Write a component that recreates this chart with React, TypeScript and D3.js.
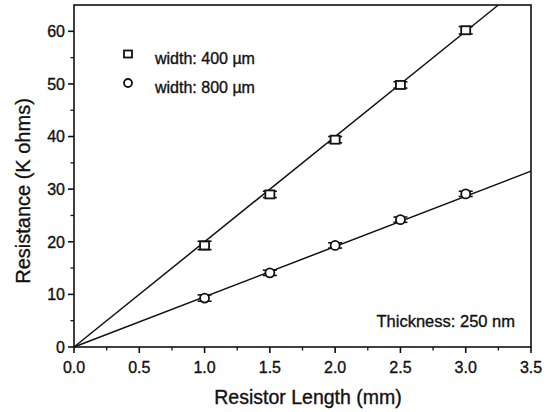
import React from 'react';
import * as d3 from 'd3';

// data
const lengths = [1.0, 1.5, 2.0, 2.5, 3.0];
const res400 = [19.3, 29.0, 39.4, 49.8, 60.2];
const res800 = [9.3, 14.1, 19.3, 24.2, 29.1];
const err400 = [0.8, 0.6, 0.6, 0.6, 0.7];
const err800 = [0.6, 0.5, 0.5, 0.5, 0.5];
const fitSlopes = [20.0, 9.55];
const xTicks = [0, 0.5, 1.0, 1.5, 2.0, 2.5, 3.0, 3.5];
const yTicks = [0, 10, 20, 30, 40, 50, 60];

export default function App() {
  const width = 549;
  const height = 412;
  const margin = { top: 5, right: 18, bottom: 65, left: 74 };
  const innerWidth = width - margin.left - margin.right;
  const innerHeight = height - margin.top - margin.bottom;
  const x = d3.scaleLinear().domain([0, 3.5]).range([0, innerWidth]);
  const y = d3.scaleLinear().domain([0, 65]).range([innerHeight, 0]);
  const line = d3
    .line<number>()
    .x((d) => x(d[0]))
    .y((d) => y(d[1]));
  const font = "'Liberation Sans', Arial, sans-serif";
  const ink = '#111';
  // scanned text looks a bit heavy
  const heavy = { stroke: ink, strokeWidth: 0.35 };

  const fitLine = (slope: number) => {
    const xEnd = Math.min(3.5, 65 / slope);
    return line([
      [0, 0],
      [xEnd, slope * xEnd],
    ] as any);
  };

  const errBar = (lx: number, v: number, e: number, key: string) => {
    const cx = x(lx);
    return (
      <g key={key} stroke={ink} strokeWidth={1.6}>
        <line x1={cx} x2={cx} y1={y(v - e)} y2={y(v + e)} />
        <line x1={cx - 7} x2={cx + 7} y1={y(v - e)} y2={y(v - e)} />
        <line x1={cx - 7} x2={cx + 7} y1={y(v + e)} y2={y(v + e)} />
      </g>
    );
  };

  const minorX = d3.range(0.25, 3.5, 0.5);
  const minorY = d3.range(5, 65, 10);

  return (
    <svg width={width} height={height} style={{ position: 'absolute', left: 0, top: 0, background: '#fff' }}>
      <g transform={`translate(${margin.left},${margin.top})`} fontFamily={font} fill={ink}>
        {/* frame */}
        <rect x={0} y={0} width={innerWidth} height={innerHeight} fill="none" stroke={ink} strokeWidth={1.6} />
        {/* x ticks */}
        {xTicks.map((t) => (
          <g key={'xt' + t} transform={`translate(${x(t)},${innerHeight})`}>
            <line y1={0} y2={6} stroke={ink} strokeWidth={1.6} />
            <text y={26} textAnchor="middle" fontSize={16} fill={ink} {...heavy}>
              {t.toFixed(1)}
            </text>
          </g>
        ))}
        {minorX.map((t) => (
          <line key={'xm' + t} x1={x(t)} x2={x(t)} y1={innerHeight} y2={innerHeight + 3.5} stroke={ink} strokeWidth={1.3} />
        ))}
        {/* y ticks */}
        {yTicks.map((t) => (
          <g key={'yt' + t} transform={`translate(0,${y(t)})`}>
            <line x1={0} x2={-6} stroke={ink} strokeWidth={1.6} />
            <text x={-9} dy="0.36em" textAnchor="end" fontSize={16} fill={ink} {...heavy}>
              {t}
            </text>
          </g>
        ))}
        {minorY.map((t) => (
          <line key={'ym' + t} x1={0} x2={-3.5} y1={y(t)} y2={y(t)} stroke={ink} strokeWidth={1.3} />
        ))}
        {/* fit lines */}
        {fitSlopes.map((s) => (
          <path key={'fit' + s} d={fitLine(s) || ''} fill="none" stroke={ink} strokeWidth={1.5} />
        ))}
        {/* 400 um: squares */}
        {lengths.map((l, i) => (
          <g key={'s' + i}>
            {errBar(l, res400[i], err400[i], 'e4' + i)}
            <rect x={x(l) - 4.5} y={y(res400[i]) - 4} width={9} height={8} fill="#fff" stroke={ink} strokeWidth={1.8} />
          </g>
        ))}
        {/* 800 um: circles */}
        {lengths.map((l, i) => (
          <g key={'c' + i}>
            {errBar(l, res800[i], err800[i], 'e8' + i)}
            <circle cx={x(l)} cy={y(res800[i])} r={4.5} fill="#fff" stroke={ink} strokeWidth={1.8} />
          </g>
        ))}
        {/* legend */}
        <rect x={50} y={45.5} width={8} height={7} fill="#fff" stroke={ink} strokeWidth={1.8} />
        <text x={81} y={59} fontSize={16} fill={ink} {...heavy}>
          width: 400 µm
        </text>
        <circle cx={54} cy={78} r={4} fill="#fff" stroke={ink} strokeWidth={1.8} />
        <text x={81} y={88} fontSize={16} fill={ink} {...heavy}>
          width: 800 µm
        </text>
        <text x={441} y={322} textAnchor="end" fontSize={16.5} fill={ink} {...heavy}>
          Thickness: 250 nm
        </text>
      </g>
      {/* axis titles */}
      <text x={308} y={404} textAnchor="middle" fontFamily={font} fontSize={19.5} fill={ink} {...heavy}>
        Resistor Length (mm)
      </text>
      <text
        transform={`translate(30,${191}) rotate(-90)`}
        textAnchor="middle"
        fontFamily={font}
        fontSize={20}
        fill={ink}
        {...heavy}
      >
        Resistance (K ohms)
      </text>
    </svg>
  );
}
